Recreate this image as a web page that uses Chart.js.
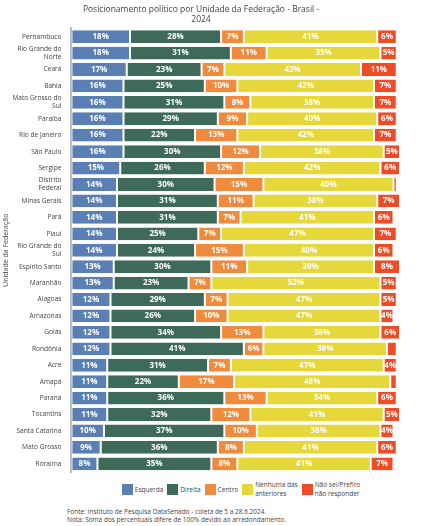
<!DOCTYPE html>
<html><head><meta charset="utf-8">
<script src="https://cdn.jsdelivr.net/npm/chart.js@4"></script>
<style>
body{margin:0;background:#fff;font-family:"Open Sans",sans-serif;}
#wrap{position:relative;width:422px;height:478px;}
#legend{display:flex;justify-content:center;gap:4px;font-size:6.5px;color:#444;margin-top:2px;margin-left:60px}
#legend div{display:flex;align-items:center;gap:2px}
#legend span.b{display:inline-block;width:11px;height:11px}
#note{font-size:6.5px;color:#444;margin:10px 0 0 67px;line-height:1.2}
</style></head>
<body>
<div id="wrap"><canvas id="c"></canvas></div>
<div id="legend"></div>
<div id="note">Fonte: Instituto de Pesquisa DataSenado - coleta de 5 a 28.6.2024.<br>Nota: Soma dos percentuais difere de 100% devido ao arredondamento.</div>
<script>
const states = ["Pernambuco",["Rio Grande do","Norte"],"Ceará","Bahia",["Mato Grosso do","Sul"],"Paraíba","Rio de Janeiro","São Paulo","Sergipe",["Distrito","Federal"],"Minas Gerais","Pará","Piauí",["Rio Grande do","Sul"],"Espírito Santo","Maranhão","Alagoas","Amazonas","Goiás","Rondônia","Acre","Amapá","Paraná","Tocantins","Santa Catarina","Mato Grosso","Roraima"];
const esquerda = [18,18,17,16,16,16,16,16,15,14,14,14,14,14,13,13,12,12,12,12,11,11,11,11,10,9,8];
const direita  = [28,31,23,25,31,29,22,30,26,30,31,31,25,24,30,23,29,26,34,41,31,22,36,32,37,36,35];
const centro   = [7,11,7,10,8,9,13,12,12,15,11,7,7,15,11,7,7,10,13,6,7,17,13,12,10,8,8];
const nenhuma  = [41,35,42,42,38,40,42,38,42,40,38,41,47,40,39,52,47,47,36,38,47,48,34,41,38,41,41];
const naoSabe  = [6,5,11,7,7,6,7,5,6,1,7,6,7,6,8,5,5,4,6,3,4,2,6,5,4,6,7];
const seriesNames = ["Esquerda","Direita","Centro",["Nenhuma das","anteriores"],["Não sei/Prefiro","não responder"]];
const colors = ["#5a7fb4","#3e6b59","#f08a3c","#e6d83a","#ee4b26"];
const all = [esquerda,direita,centro,nenhuma,naoSabe];

const labelPlugin = {
  id:'lbl',
  afterDatasetsDraw(chart){
    const ctx = chart.ctx;
    ctx.save();
    ctx.font = 'bold 8px "Open Sans"';
    ctx.fillStyle = '#fff';
    ctx.textAlign = 'center'; ctx.textBaseline = 'middle';
    chart.data.datasets.forEach((ds,i)=>{
      chart.getDatasetMeta(i).data.forEach((bar,j)=>{
        const v = ds.data[j];
        if (v < 4) return;
        ctx.fillText(v+'%', (bar.x+bar.base)/2, bar.y);
      });
    });
    ctx.restore();
  }
};

new Chart(document.getElementById('c'), {
  type:'bar',
  data:{labels:states, datasets: all.map((d,i)=>({
    label: Array.isArray(seriesNames[i]) ? seriesNames[i].join(' ') : seriesNames[i],
    data:d, backgroundColor:colors[i], borderColor:'#fff', borderWidth:{left:1,right:1}, borderSkipped:false,
    barPercentage:0.78, categoryPercentage:1
  }))},
  options:{
    indexAxis:'y', responsive:true, maintainAspectRatio:false, animation:false,
    layout:{padding:{top:4,right:22,bottom:0,left:2}},
    plugins:{
      legend:{display:false}, tooltip:{enabled:false},
      title:{display:true, text:["Posicionamento político por Unidade da Federação - Brasil -","2024"], color:'#444', font:{size:8.5, weight:'normal', family:'"Open Sans"'}, padding:{top:0,bottom:4}}
    },
    scales:{
      x:{stacked:true, display:false, min:0, max:101},
      y:{stacked:true, grid:{display:false, drawTicks:true}, border:{color:'#bbb', width:2},
         ticks:{color:'#444', font:{size:6.6, family:'"Open Sans"'}, padding:2, autoSkip:false},
         title:{display:true, text:"Unidade da Federação", color:'#444', font:{size:7, family:'"Open Sans"'}, padding:0}}
    }
  },
  plugins:[labelPlugin]
});

const lg = document.getElementById('legend');
seriesNames.forEach((n,i)=>{
  const d = document.createElement('div');
  d.innerHTML = '<span class="b" style="background:'+colors[i]+'"></span><span>'+(Array.isArray(n)?n.join('<br>'):n)+'</span>';
  lg.appendChild(d);
});
</script>
</body></html>
